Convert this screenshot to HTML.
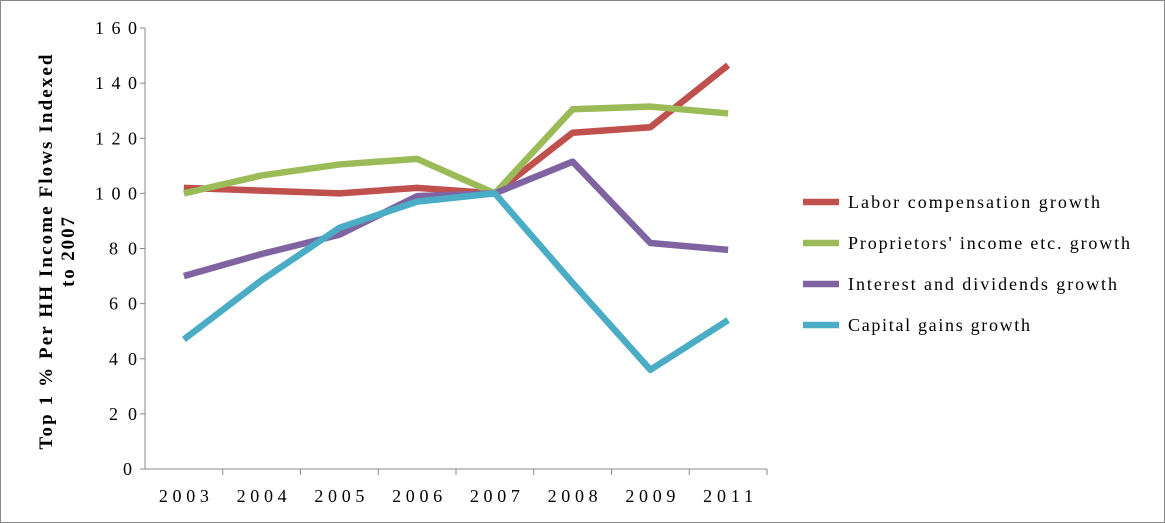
<!DOCTYPE html>
<html><head><meta charset="utf-8"><style>
body{margin:0;background:#fff}
svg{display:block;font-family:"Liberation Serif",serif}
</style></head><body>
<svg width="1165" height="523">
<rect x="0.5" y="0.5" width="1164" height="522" fill="#fff" stroke="#888"/>
<g id="axes"></g><g id="series"></g><g id="legend"></g>
<text transform="translate(52,252) rotate(-90)" text-anchor="middle" font-size="19" font-weight="bold"><tspan x="0" dy="0" textLength="395" lengthAdjust="spacing">Top 1 % Per HH Income Flows  Indexed</tspan><tspan x="0" dy="22" textLength="70" lengthAdjust="spacing">to 2007</tspan></text>
</svg>
<script>
const categories=["2003","2004","2005","2006","2007","2008","2009","2011"];
const yTicks=[0,20,40,60,80,100,120,140,160];
const seriesNames=["Labor compensation growth","Proprietors' income etc. growth","Interest and dividends growth","Capital gains growth"];
const labor=[102,101,100,102,100,122,124,146.5];
const proprietors=[100,106.5,110.5,112.5,100,130.5,131.5,129];
const interest=[70,78,85,99,100,111.5,82,79.5];
const capital=[47,68.5,87.5,97,100,67.5,36,54];
const colors=["#c0504d","#9bbb59","#8064a2","#4bacc6"];
const legendWidths=[252,282,269,182];
const NS="http://www.w3.org/2000/svg";
const L=145,R=767,T=28,B=469;
const x=i=>L+(R-L)/categories.length*(i+0.5);
const y=v=>B-(B-T)*v/160;
const axes=document.getElementById('axes');
function mk(tag,attrs,parent){const e=document.createElementNS(NS,tag);for(const k in attrs)e.setAttribute(k,attrs[k]);parent.appendChild(e);return e;}
yTicks.forEach(t=>{
 const tk=mk('line',{x1:L-5,x2:L,y1:y(t),y2:y(t),stroke:'#888'},axes);
 
 
 const s=String(t);
 const w=s.length*14;
 const lb=mk('text',{x:137-w,y:y(t)+6,'font-size':18,textLength:w,lengthAdjust:'spacing'},axes);
 lb.textContent=s;
 
 
});
const ya=mk('line',{x1:L,x2:L,y1:T,y2:B,stroke:'#888'},axes);


const xa=mk('line',{x1:L,x2:R,y1:B,y2:B,stroke:'#888'},axes);


categories.forEach((c,i)=>{
 const tk=mk('line',{x1:L+(R-L)/categories.length*(i+1),x2:L+(R-L)/categories.length*(i+1),y1:B,y2:B+6,stroke:'#888'},axes);
 
 
 const lb=mk('text',{x:x(i)-25,y:B+33,'font-size':18,textLength:50,lengthAdjust:'spacing'},axes);
 lb.textContent=c;
 
 
});
const sg=document.getElementById('series'),lg=document.getElementById('legend');
[labor,proprietors,interest,capital].forEach((d,s)=>{
 const p=mk('polyline',{points:d.map((v,i)=>x(i)+','+y(v)).join(' '),fill:'none',stroke:colors[s],'stroke-width':6.5,'stroke-linejoin':'round'},sg);
 
 
 const ly=202+41*s;
 const g=mk('g',{},lg);
 
 
 mk('line',{x1:803,x2:839,y1:ly,y2:ly,stroke:colors[s],'stroke-width':6.5},g);
 const t=mk('text',{x:848,y:ly+6,'font-size':18,textLength:legendWidths[s],lengthAdjust:'spacing'},g);
 t.textContent=seriesNames[s];
});
</script>
</body></html>
